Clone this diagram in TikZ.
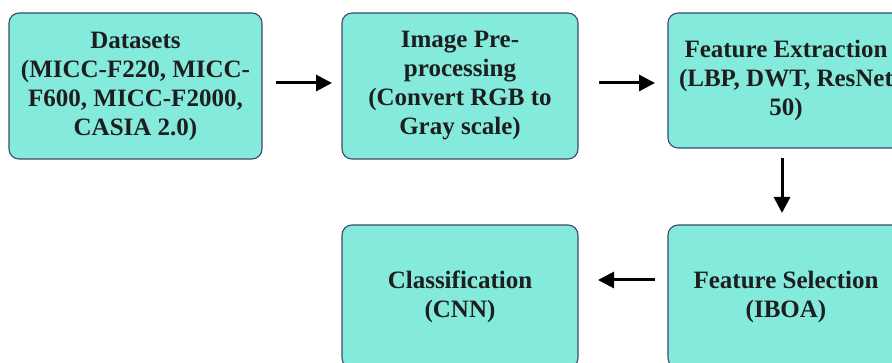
\documentclass[tikz,border=0pt]{standalone}
\usepackage{fontspec}
\setmainfont{Liberation Serif}[BoldFont={Liberation Serif Bold}]
\usetikzlibrary{arrows.meta}
\definecolor{boxfill}{RGB}{132,234,220}
\definecolor{boxline}{RGB}{58,74,106}
\definecolor{txt}{RGB}{30,30,30}
\tikzset{
  stage/.style={draw=boxline, line width=1.1pt, fill=boxfill, rounded corners=10pt,
    align=center, text=txt, font=\fontsize{25}{29}\selectfont\bfseries,
    inner sep=0pt},
  flow/.style={line width=3pt, -{Triangle[length=16pt,width=16pt]}}
}
\begin{document}
\begin{tikzpicture}[x=1pt,y=-1pt]
\useasboundingbox (0,0) rectangle (892,363);
\node[stage, minimum width=253pt, minimum height=146pt] (ds) at (135.5,86)
  {Datasets\\(MICC-F220, MICC-\\F600, MICC-F2000,\\CASIA 2.0)};
\node[stage, minimum width=236pt, minimum height=146pt] (pre) at (460,86)
  {Image Pre-\\processing\\(Convert RGB to\\Gray scale)};
\node[stage, minimum width=236pt, minimum height=135pt] (fe) at (786,80.5)
  {Feature Extraction\\(LBP, DWT, ResNet\\50)};
\node[stage, minimum width=236pt, minimum height=143pt] (fs) at (786,296.5)
  {Feature Selection\\(IBOA)};
\node[stage, minimum width=236pt, minimum height=143pt] (cl) at (460,296.5)
  {Classification\\(CNN)};
\coordinate (a1s) at (276,83); \coordinate (a1e) at (332,83);
\coordinate (a2s) at (599,83); \coordinate (a2e) at (655,83);
\coordinate (a3s) at (782,158); \coordinate (a3e) at (782,213);
\coordinate (a4s) at (655,280); \coordinate (a4e) at (598,280);
\draw[flow] (a1s) -- (a1e);
\draw[flow] (a2s) -- (a2e);
\draw[flow] (a3s) -- (a3e);
\draw[flow] (a4s) -- (a4e);
\end{tikzpicture}
\end{document}
